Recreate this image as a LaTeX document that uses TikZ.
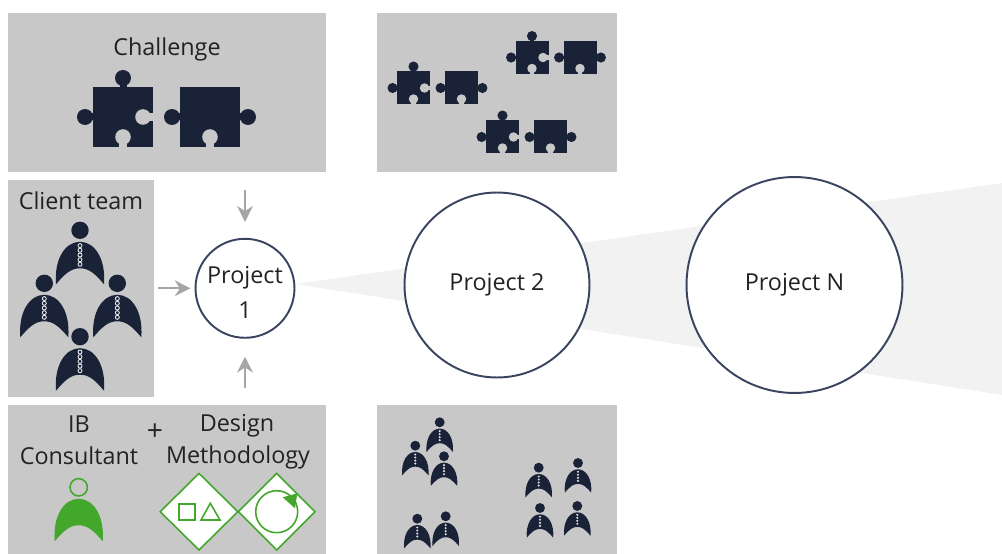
\documentclass[tikz,border=0pt]{standalone}
\usepackage{fontspec}
\usetikzlibrary{arrows.meta}
\setmainfont{Open Sans}
\definecolor{panelgray}{HTML}{C8C8C8}
\definecolor{navyfill}{HTML}{1A2238}
\definecolor{ringblue}{HTML}{3A4460}
\definecolor{leafgreen}{HTML}{43A72C}
\definecolor{arrowgray}{HTML}{A6A6A6}
\definecolor{wedgegray}{HTML}{F2F2F2}
\definecolor{inkgray}{HTML}{222222}
\newcommand{\personbody}{(-24,54) .. controls (-26,29) and (-15,11.5) .. (0,11.5) .. controls (15,11.5) and (26,29) .. (24,54) .. controls (14,42) and (8,38) .. (0,38) .. controls (-8,38) and (-14,42) .. (-24,54) -- cycle}
\newcommand{\knobr}{8}
\newcommand{\notchr}{7.8}
\tikzset{
    panel/.style={fill=panelgray,draw=none,inner sep=0pt,outer sep=0pt},
    label/.style={text=inkgray,font=\fontsize{13.3}{16}\selectfont,inner sep=0pt},
    project/.style={circle,draw=ringblue,line width=1.1pt,fill=white,inner sep=0pt,text=inkgray,align=center,font=\fontsize{13.3}{16.5}\selectfont},
    flow/.style={draw=arrowgray,line width=1.1pt,-{Stealth[length=9pt,width=9pt]}},
    greenline/.style={draw=leafgreen,line width=.9pt},
    puzzleleft/.pic={
        \fill[navyfill] (-30,-30) rectangle (30,30);
        \fill[navyfill] (0,-39) circle (\knobr);
        \fill[navyfill] (-3.5,-33) rectangle (3.5,-29);
        \fill[navyfill] (-38,0) circle (\knobr);
        \fill[navyfill] (-33,-3.5) rectangle (-29,3.5);
        \fill[panelgray] (20,0) circle (\notchr);
        \fill[panelgray] (24,-4.2) rectangle (31,4.2);
        \fill[panelgray] (0,20) circle (\notchr);
        \fill[panelgray] (-4.2,24) rectangle (4.2,31);
    },
    puzzleright/.pic={
        \fill[navyfill] (-30,-30) rectangle (30,30);
        \fill[navyfill] (-38,0) circle (\knobr);
        \fill[navyfill] (-33,-3.5) rectangle (-29,3.5);
        \fill[navyfill] (38,0) circle (\knobr);
        \fill[navyfill] (29,-3.5) rectangle (33,3.5);
        \fill[panelgray] (0,20) circle (\notchr);
        \fill[panelgray] (-4.2,24) rectangle (4.2,31);
    },
    member/.pic={
        \fill[navyfill] (0,0) circle (8.7);
        \fill[navyfill] \personbody;
        \foreach \k in {15.3,20,24.7,29.4,34}
            \draw[white!90!navyfill,line width=.5pt] (0,\k) circle (2);
    },
    smallmember/.pic={
        \fill[navyfill] (0,0) circle (9);
        \fill[navyfill] \personbody;
        \foreach \k in {16,21.5,27,32.5}
            \fill[white!85!navyfill] (0,\k) circle (2.1);
    },
}
\begin{document}
\begin{tikzpicture}[x=.02cm,y=-.02cm]
    \useasboundingbox (0,0) rectangle (1002,554);
    % panels
    \node[panel,minimum width=6.354cm,minimum height=3.192cm] (challenge) at (166.85,92.5){};
    \node[panel,minimum width=2.926cm,minimum height=4.346cm] (client) at (81.15,288.65){};
    \node[panel,minimum width=6.354cm,minimum height=2.98cm] (ibpanel) at (166.85,479.5){};
    \node[panel,minimum width=4.812cm,minimum height=3.192cm] (puzzles) at (497,92.5){};
    \node[panel,minimum width=4.812cm,minimum height=2.98cm] (teams) at (497,479.5){};
    % wedge behind the circles
    \coordinate (apex) at (295,284);
    \coordinate (wedgetop) at (1002,183);
    \coordinate (wedgebot) at (1002,395);
    \fill[wedgegray] (apex) -- (wedgetop) -- (wedgebot) -- cycle;
    % projects
    \node[project,minimum size=1.98cm] (p1) at (245,288.3){};
    \node[project,minimum size=3.7cm] (p2) at (497,285){};
    \node[project,minimum size=4.32cm] (pn) at (794.5,285){};
    \node[label] (p1top) at (245,278){Project};
    \node[label] (p1bot) at (245,310){1};
    \node[label] (p2text) at (497,285){Project 2};
    \node[label] (pntext) at (794.5,285){Project N};
    % arrows into project 1
    \coordinate (fromtop) at (245,190);
    \coordinate (fromleft) at (158,288.3);
    \coordinate (frombot) at (245,388);
    \draw[flow,shorten >=.32cm] (fromtop) -- (p1);
    \draw[flow,shorten >=.08cm] (fromleft) -- (p1);
    \draw[flow,shorten >=.36cm] (frombot) -- (p1);
    % challenge
    \node[label] (challengetext) at (167,49){Challenge};
    \pic at (123,117) {puzzleleft};
    \pic at (210,117) {puzzleright};
    \renewcommand{\knobr}{9.2}
    \renewcommand{\notchr}{8.6}
    \foreach \a/\b in {413.5/88,532/57.5,502.5/137}{
        \pic[scale=.55] at (\a,\b) {puzzleleft};
        \pic[scale=.55] at (\a+48,\b) {puzzleright};
    }
    % client team
    \node[label] (clienttext) at (81,201){Client team};
    \foreach \a/\b in {80/230.3,44.3/283.3,117.3/283.3,80/336.7}
        \pic at (\a,\b) {member};
    % other teams
    \foreach \a/\b in {439.7/422.3,415.3/445.7,444/456.3,417.3/518.7,445.7/516.3,538.7/467.7,578/463,540/508,577.3/506}
        \pic[scale=.55] at (\a,\b) {smallmember};
    % consultant and methodology
    \node[label] (ibtext) at (79,424){IB};
    \node[label] (consultanttext) at (79,456){Consultant};
    \node[label,font=\fontsize{16}{16}\selectfont] (plustext) at (155,432){+};
    \node[label] (designtext) at (237,426){Design};
    \node[label] (methodtext) at (238,457){Methodology};
    \draw[greenline] (78.7,487.3) circle (8.7);
    \fill[leafgreen,shift={(78.7,487.3)}] \personbody;
    \filldraw[greenline,fill=white] (199,473.4) -- (237.8,511.7) -- (199,550) -- (160.2,511.7) -- cycle;
    \filldraw[greenline,fill=white] (276.7,473.4) -- (315,511.7) -- (276.7,550) -- (238.4,511.7) -- cycle;
    \draw[greenline] (179,504) rectangle (195,520);
    \draw[greenline] (201,520) -- (220,520) -- (210.3,503.3) -- cycle;
    \draw[greenline] (276.7,511.7) circle (21);
    \fill[leafgreen] (282.7,497.3) -- (297.3,493.3) -- (295,508.3) -- cycle;
\end{tikzpicture}
\end{document}
